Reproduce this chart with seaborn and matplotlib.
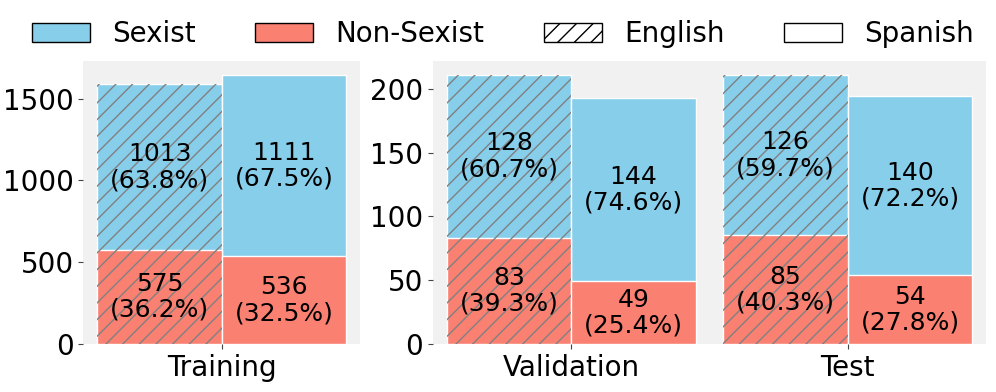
import matplotlib
matplotlib.use("Agg")
import matplotlib.pyplot as plt
from matplotlib.patches import Patch, Rectangle
import pandas as pd
import seaborn as sns

# counts per split and language
splits = ["Training", "Validation", "Test"]
languages = ["English", "Spanish"]
english_sexist = [1013, 128, 126]
english_non_sexist = [575, 83, 85]
spanish_sexist = [1111, 144, 140]
spanish_non_sexist = [536, 49, 54]

sexist_color = "skyblue"
non_sexist_color = "salmon"

rows = []
for i, split in enumerate(splits):
    rows.append({"Split": split, "Language": "English",
                 "Sexist": english_sexist[i], "Non": english_non_sexist[i]})
    rows.append({"Split": split, "Language": "Spanish",
                 "Sexist": spanish_sexist[i], "Non": spanish_non_sexist[i]})
df = pd.DataFrame(rows)
df["Total"] = df["Sexist"] + df["Non"]

sns.set_theme(
    style="ticks",
    rc={
        "axes.facecolor": "#f1f1f1",
        "axes.spines.left": False,
        "axes.spines.right": False,
        "axes.spines.top": False,
        "axes.spines.bottom": False,
        "xtick.major.size": 3.5,
        "ytick.major.size": 3.5,
        "xtick.major.width": 0.8,
        "ytick.major.width": 0.8,
        "xtick.color": "#444444",
        "ytick.color": "#444444",
        "xtick.labelcolor": "black",
        "ytick.labelcolor": "black",
        "text.color": "black",
    },
)
plt.rcParams["font.family"] = ["DejaVu Sans"]


def draw_panel(ax, data):
    sns.barplot(
        data=data, x="Split", y="Total", hue="Language",
        hue_order=languages,
        palette={"English": sexist_color, "Spanish": sexist_color},
        width=0.9, saturation=1, edgecolor="white", linewidth=1,
        errorbar=None, legend=False, ax=ax
    )
    sns.barplot(
        data=data, x="Split", y="Non", hue="Language",
        hue_order=languages,
        palette={"English": non_sexist_color, "Spanish": non_sexist_color},
        width=0.9, saturation=1, edgecolor="white", linewidth=1,
        errorbar=None, legend=False, ax=ax
    )

    for c, lang in enumerate(languages):
        sub = data[data["Language"] == lang]
        for bar, (_, row) in zip(ax.containers[c], sub.iterrows()):
            x = bar.get_x() + bar.get_width() / 2
            total = row["Total"]

            if lang == "English":
                ax.add_patch(Rectangle(
                    bar.get_xy(), bar.get_width(), bar.get_height(),
                    facecolor="none", edgecolor="gray",
                    hatch="//", linewidth=0
                ))

            ax.text(
                x, row["Non"] + row["Sexist"] / 2,
                f"{row['Sexist']}\n({row['Sexist'] / total * 100:.1f}%)",
                ha="center", va="center", fontsize=18,
                linespacing=1.1, zorder=5
            )
            ax.text(
                x, row["Non"] / 2,
                f"{row['Non']}\n({row['Non'] / total * 100:.1f}%)",
                ha="center", va="center", fontsize=18,
                linespacing=1.1, zorder=5
            )

    ax.set_xlabel("")
    ax.set_ylabel("")
    ax.tick_params(axis="both", labelsize=20)


fig, axes = plt.subplots(
    1, 2,
    figsize=(9.96, 3.92),
    dpi=100,
    gridspec_kw={"width_ratios": [1, 2]}
)
plt.subplots_adjust(left=0.0838, right=0.99, bottom=0.1224, top=0.844,
                    wspace=0.176)

draw_panel(axes[0], df[df["Split"] == "Training"])
draw_panel(axes[1], df[df["Split"] != "Training"])

handles = [
    Patch(facecolor=sexist_color, edgecolor="black", label="Sexist"),
    Patch(facecolor=non_sexist_color, edgecolor="black", label="Non-Sexist"),
    Patch(facecolor="white", edgecolor="black", hatch="//", label="English"),
    Patch(facecolor="white", edgecolor="black", label="Spanish"),
]
fig.legend(
    handles=handles,
    loc="upper center",
    bbox_to_anchor=(0.505, 1.012),
    ncol=4,
    frameon=False,
    fontsize=20,
    handlelength=2.08,
    columnspacing=2.15
)

plt.savefig("out.png", dpi=100)
